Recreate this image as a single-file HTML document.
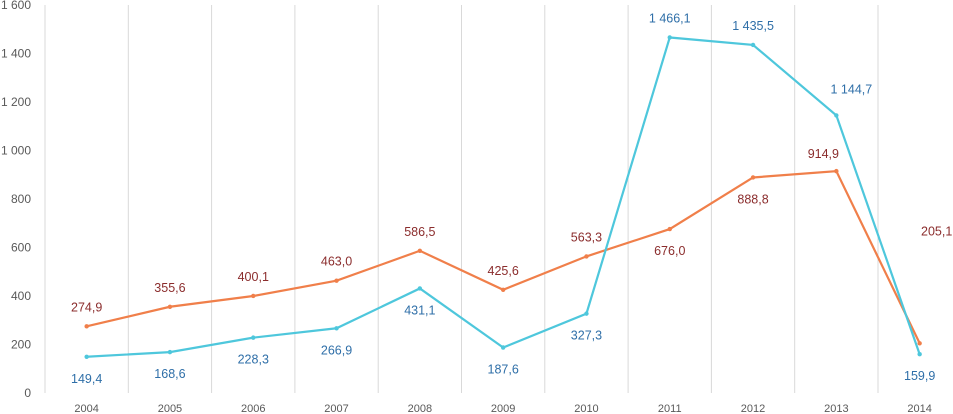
<!DOCTYPE html>
<html><head><meta charset="utf-8"><style>
body{margin:0;background:#fff;}
svg{display:block;font-family:"Liberation Sans",sans-serif;}
</style></head><body>
<svg id="c" width="953" height="414"></svg>
<script>
const years=['2004','2005','2006','2007','2008','2009','2010','2011','2012','2013','2014'];
const orangeVals=[274.9,355.6,400.1,463.0,586.5,425.6,563.3,676.0,888.8,914.9,205.1];
const blueVals=[149.4,168.6,228.3,266.9,431.1,187.6,327.3,1466.1,1435.5,1144.7,159.9];
const orangePlace=['a','a','a','a','a','a','a','b','b','al','r'];
const bluePlace=['b','b','b','b','b','b','b','a','a','ar','b'];
const yTicks=[0,200,400,600,800,1000,1200,1400,1600];
const svg=document.getElementById('c');
const NS='http://www.w3.org/2000/svg';
const left=45,step=83.3,y0=393,yTop=5;
const x=i=>left+step*(i+0.5);
const y=v=>y0-(v/1600)*(y0-yTop);
function mk(t,a,p){const e=document.createElementNS(NS,t);for(const k in a)e.setAttribute(k,a[k]);(p||svg).appendChild(e);return e;}
const fmt=v=>{let s=v.toFixed(1).replace('.',',');let [a,b]=s.split(',');a=a.replace(/\B(?=(\d{3})+(?!\d))/g,' ');return a+','+b;};
for(let i=0;i<=11;i++){const l=mk('line',{x1:left+step*i,x2:left+step*i,y1:yTop,y2:y0,stroke:'#d9d9d9','stroke-width':1});

}
yTicks.forEach(v=>{const t=mk('text',{x:31,y:y(v)+4,'text-anchor':'end','font-size':12,fill:'#595959'});t.textContent=v>=1000?String(v).replace(/\B(?=(\d{3})+(?!\d))/g,' '):v;

});
years.forEach((yr,i)=>{const t=mk('text',{x:x(i),y:412,'text-anchor':'middle','font-size':11,fill:'#595959'});t.textContent=yr;

});
function series(vals,place,color,lc,name){
  const p=mk('polyline',{points:vals.map((v,i)=>x(i)+','+y(v)).join(' '),fill:'none',stroke:color,'stroke-width':2.2});
  
  
  vals.forEach((v,i)=>{const c=mk('circle',{cx:x(i),cy:y(v),r:2.2,fill:color});
    
    
    let tx=x(i),ty=y(v);const pl=place[i];
    if(pl==='a')ty-=15;else if(pl==='b')ty+=26;
    else if(pl==='al'){tx-=13;ty-=13;}
    else if(pl==='ar'){tx+=15;ty-=22;}
    else{tx+=17;ty-=108;}
    const t=mk('text',{x:tx,y:ty,'text-anchor':'middle','font-size':12.5,fill:lc});t.textContent=fmt(v);
    
    });
}
series(orangeVals,orangePlace,'#f07f4a','#8b2d2d','orange-series');
series(blueVals,bluePlace,'#4ec7dc','#2f6fa8','blue-series');
</script>
</body></html>
